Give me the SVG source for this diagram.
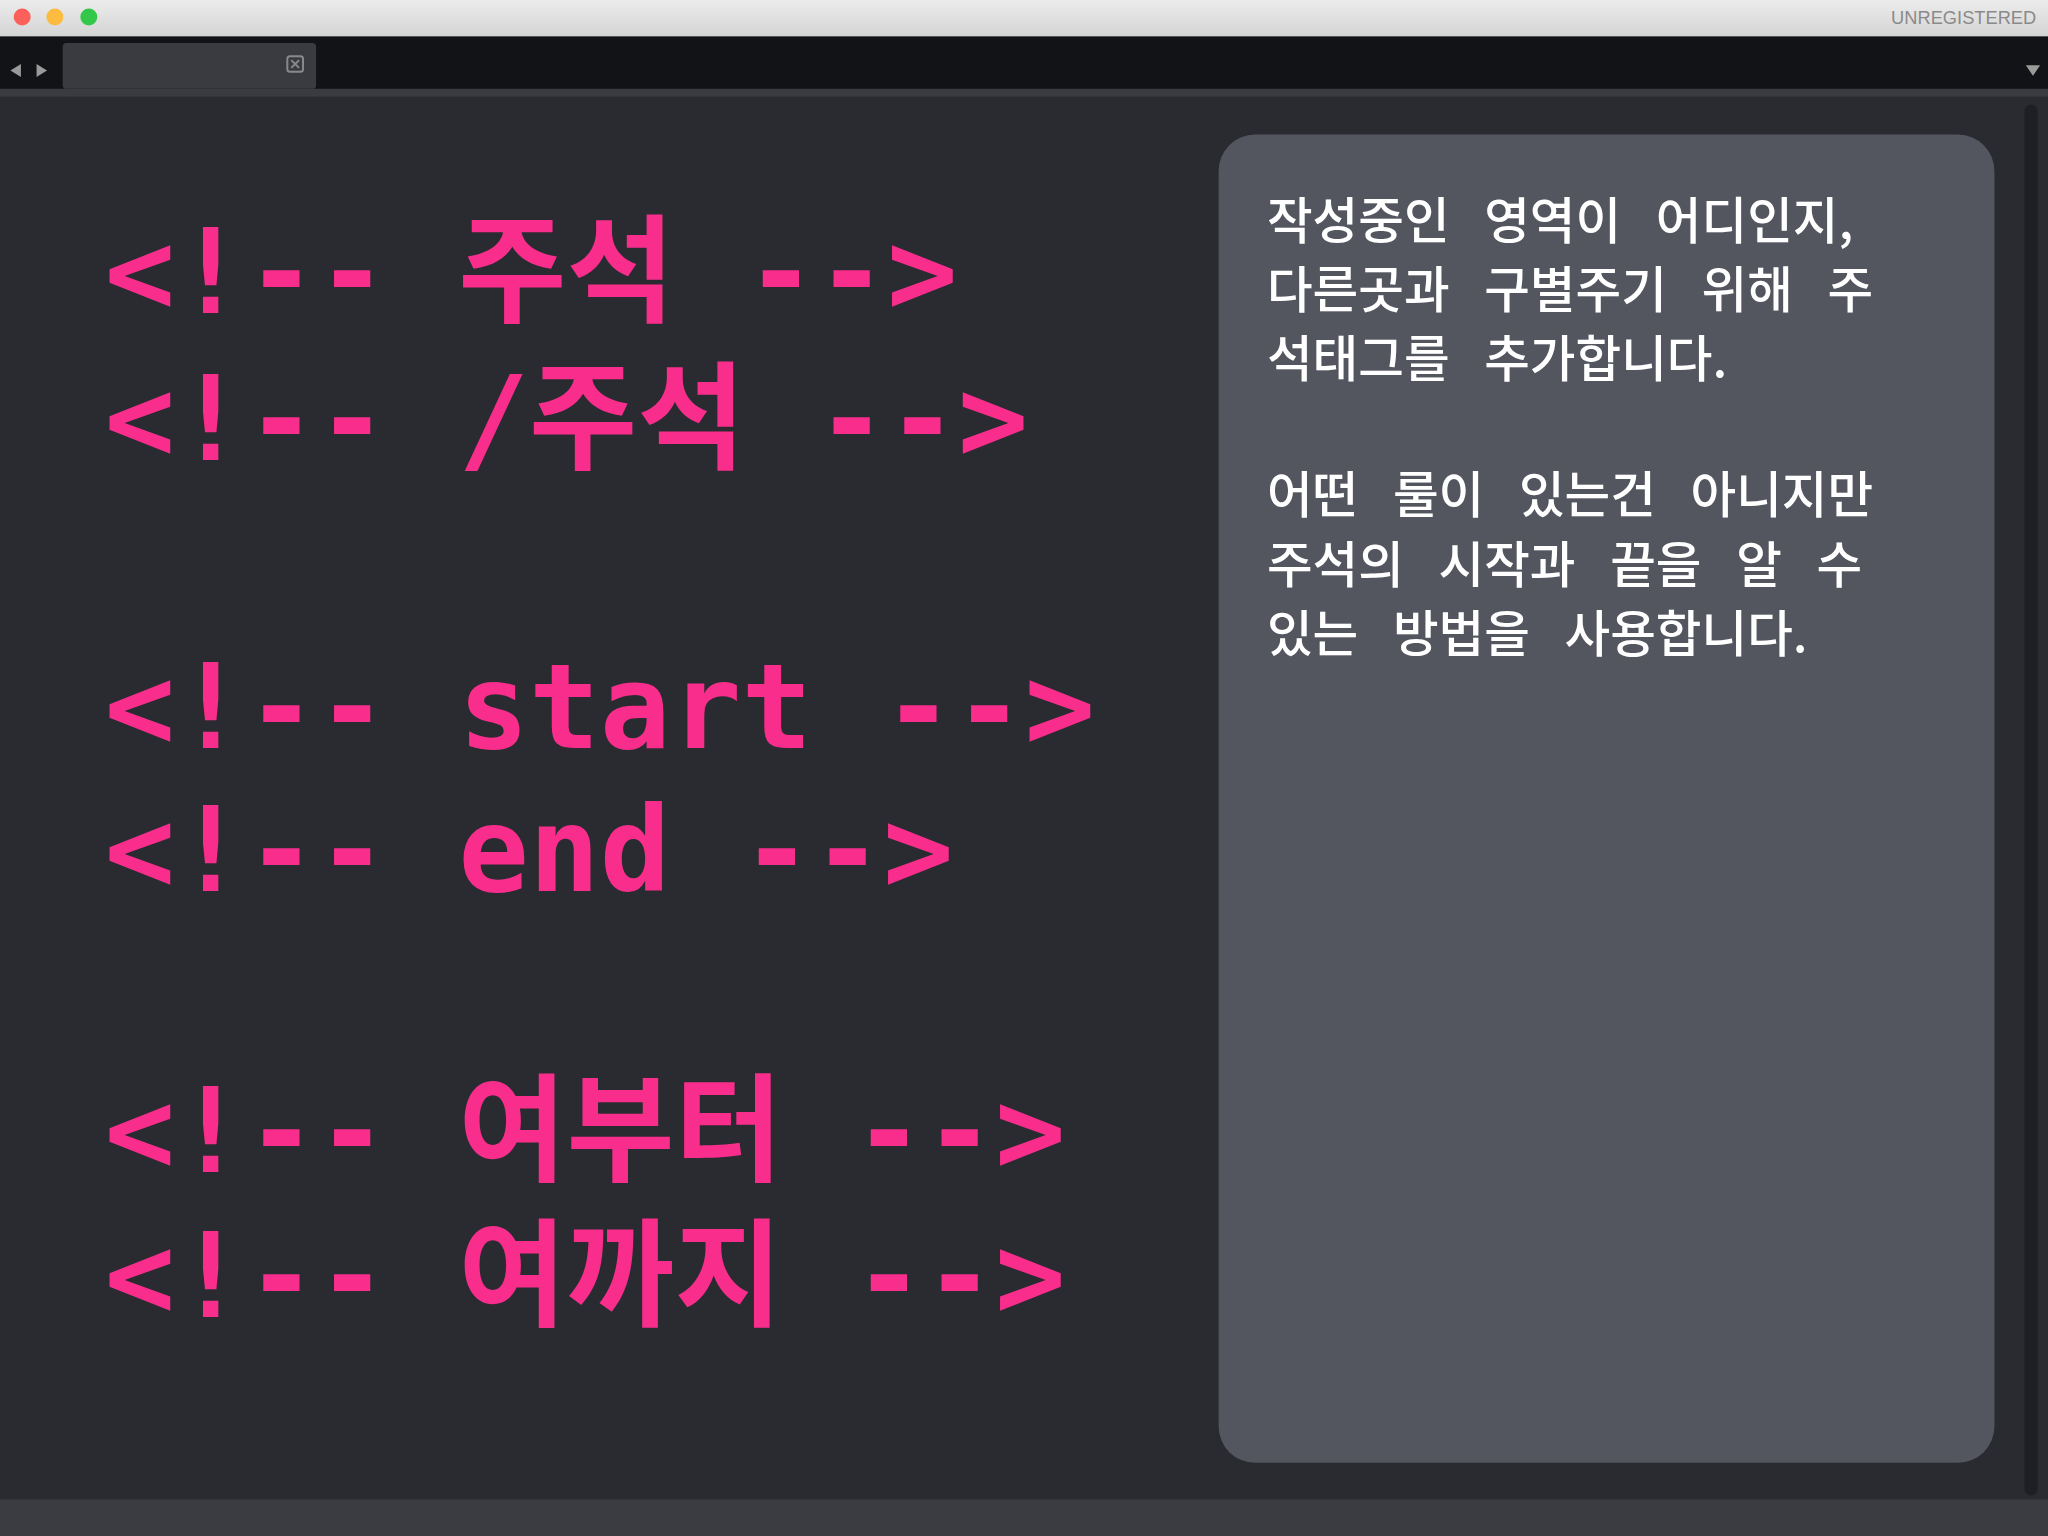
<svg xmlns="http://www.w3.org/2000/svg" width="2048" height="1536" viewBox="0 0 2048 1536">
<defs>
<linearGradient id="tb" x1="0" y1="0" x2="0" y2="1"><stop offset="0" stop-color="#ececec"/><stop offset="1" stop-color="#d4d4d4"/></linearGradient>
<style>
.code{font-family:"DejaVu Sans Mono","Noto Sans CJK KR",monospace;font-weight:bold;font-size:90px;fill:#f92e8c;white-space:pre}
.note{font-family:"Noto Sans CJK KR",sans-serif;font-weight:500;font-size:38px;fill:#ffffff;word-spacing:18px;white-space:pre}
</style>
</defs>
<g transform="scale(1.30612)">
<rect width="1568" height="1176" fill="#2a2b30"/>
<g id="titlebar">
<rect width="1568" height="28" fill="url(#tb)"/>
<circle cx="17" cy="13" r="6.5" fill="#fc605b"/>
<circle cx="42" cy="13" r="6.5" fill="#fdbc40"/>
<circle cx="68" cy="13" r="6.5" fill="#34c84a"/>
<text x="1559" y="18" text-anchor="end" font-family="Liberation Sans,sans-serif" font-size="14" fill="#8a8a8a">UNREGISTERED</text>
</g>
<g id="tabbar">
<rect y="28" width="1568" height="40" fill="#121316"/>
<rect x="48" y="33" width="194" height="35" rx="3" fill="#3a3b40"/>
<rect x="220" y="43" width="12" height="12" rx="2" fill="none" stroke="#8a8a8a" stroke-width="1.5"/>
<path d="M223 46l6 6M229 46l-6 6" stroke="#8a8a8a" stroke-width="1.5"/>
<path d="M16 49l-8 5 8 5z M28 49l8 5-8 5z" fill="#9a9a9a"/>
<path d="M1551 50h11l-5.5 8z" fill="#9a9a9a"/>
<rect y="68" width="1568" height="6" fill="#3a3b40"/>
</g>
<rect x="1550" y="80" width="10" height="1065" rx="5" fill="#1e1f23"/>
<rect y="1148" width="1568" height="28" fill="#3b3c41"/>
<g id="code">
<text class="code" x="80" y="240">&lt;!-- 주석 --&gt;</text>
<text class="code" x="80" y="352">&lt;!-- /주석 --&gt;</text>
<text class="code" x="80" y="573">&lt;!-- start --&gt;</text>
<text class="code" x="80" y="682">&lt;!-- end --&gt;</text>
<text class="code" x="80" y="897">&lt;!-- 여부터 --&gt;</text>
<text class="code" x="80" y="1008">&lt;!-- 여까지 --&gt;</text>
</g>
<g id="panel">
<rect x="933" y="103" width="594" height="1017" rx="28" fill="#53555f"/>
<text class="note" x="970" y="183">작성중인 영역이 어디인지,</text>
<text class="note" x="970" y="236">다른곳과 구별주기 위해 주</text>
<text class="note" x="970" y="289">석태그를 추가합니다.</text>
<text class="note" x="970" y="393">어떤 룰이 있는건 아니지만</text>
<text class="note" x="970" y="446">주석의 시작과 끝을 알 수</text>
<text class="note" x="970" y="499">있는 방법을 사용합니다.</text>
</g>
</g>
</svg>
